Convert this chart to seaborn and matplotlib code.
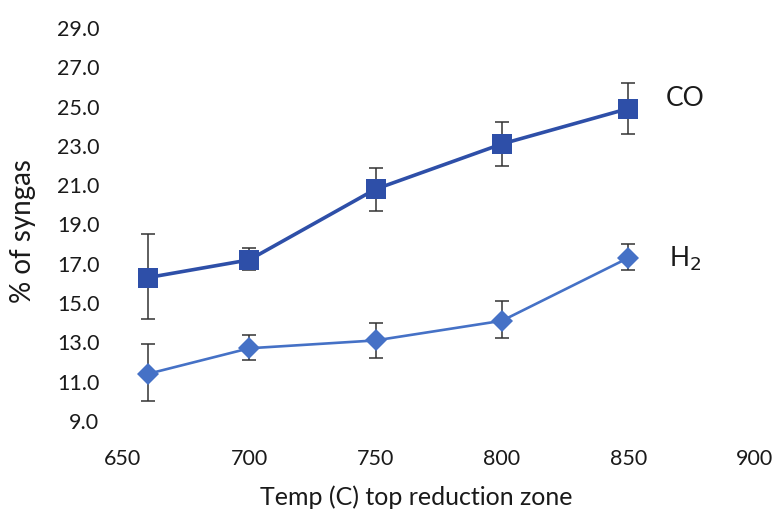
import matplotlib
matplotlib.use("Agg")
import matplotlib.pyplot as plt
import seaborn as sns
import pandas as pd
import numpy as np

temps = [660, 700, 750, 800, 850]
co = [16.3, 17.2, 20.8, 23.1, 24.9]
co_hi = [18.5, 17.8, 21.9, 24.2, 26.2]
co_lo = [14.2, 16.7, 19.7, 22.0, 23.6]
h2 = [11.4, 12.7, 13.1, 14.1, 17.3]
h2_hi = [12.9, 13.4, 14.0, 15.1, 18.0]
h2_lo = [10.0, 12.1, 12.2, 13.2, 16.7]
xticks = [650, 700, 750, 800, 850, 900]
yticks = [9.0, 11.0, 13.0, 15.0, 17.0, 19.0, 21.0, 23.0, 25.0, 27.0, 29.0]

sns.set_theme(style="white")
plt.rcParams['font.family'] = ['Lato', 'DejaVu Sans']

df = pd.DataFrame({
    "temp": temps * 2,
    "value": co + h2,
    "gas": ["CO"] * 5 + ["H2"] * 5,
})

fig = plt.figure(figsize=(7.78, 5.14), dpi=100)
ax = fig.add_axes([0.158, 0.181, 0.812, 0.7645])

co_color = "#2E4FA8"
h2_color = "#4571C6"

for lo, hi, vals in [(co_lo, co_hi, co), (h2_lo, h2_hi, h2)]:
    yerr = [np.array(vals) - np.array(lo), np.array(hi) - np.array(vals)]
    ax.errorbar(temps, vals, yerr=yerr, fmt="none", ecolor="#333333",
                elinewidth=1.1, capsize=5, capthick=1.1, zorder=1)

sns.lineplot(data=df[df.gas == "CO"], x="temp", y="value", ax=ax, color=co_color,
             marker="s", markersize=14, linewidth=2.6, markeredgewidth=0, zorder=3)
sns.lineplot(data=df[df.gas == "H2"], x="temp", y="value", ax=ax, color=h2_color,
             marker="D", markersize=11, linewidth=1.9, markeredgewidth=0, zorder=3)

ax.set_xlim(650, 900)
ax.set_ylim(9, 29)
ax.set_xticks(xticks)
ax.set_xticklabels([str(t) for t in xticks])
ax.set_yticks(yticks)
ax.set_yticklabels([f"{v:.1f}" for v in yticks])
ax.tick_params(axis="both", length=0, labelsize=15.5, colors="#1a1a1a")
ax.tick_params(axis="y", pad=17)
ax.tick_params(axis="x", pad=20)
for s in ax.spines.values():
    s.set_visible(False)
ax.grid(False)

ax.set_xlabel("Temp (C) top reduction zone", fontsize=18, color="#1a1a1a")
ax.set_ylabel("% of syngas", fontsize=20, color="#1a1a1a")
ax.xaxis.set_label_coords(0.4636, -0.165)
ax.yaxis.set_label_coords(-0.138, 0.483)

ax.text(865, 25.4, "CO", fontsize=19, color="#1a1a1a", va="center", ha="left")
ax.text(866, 17.25, "H$_2$", fontsize=19, color="#1a1a1a", va="center", ha="left")

fig.savefig("out.png", dpi=100)
